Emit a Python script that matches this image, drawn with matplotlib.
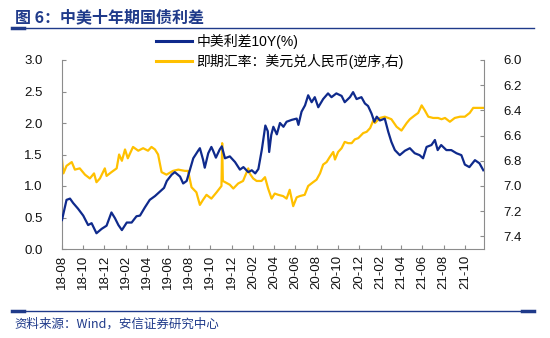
import pandas as pd
import numpy as np
from matplotlib import pyplot as plt
import matplotlib.dates as mdates
from matplotlib.lines import Line2D

plt.rcParams['font.family'] = ['Liberation Sans', 'Noto Sans CJK SC', 'DejaVu Sans']

# 中美利差10Y(%)
spread_dates = [
    '2018-08-01', '2018-08-14', '2018-08-24', '2018-09-02', '2018-09-16', '2018-10-01',
    '2018-10-15', '2018-10-25', '2018-11-08', '2018-11-23', '2018-12-07', '2018-12-21',
    '2018-12-31', '2019-01-10', '2019-01-20', '2019-02-03', '2019-02-17', '2019-03-03',
    '2019-03-13', '2019-03-27', '2019-04-10', '2019-04-25', '2019-05-09', '2019-05-21',
    '2019-05-29', '2019-06-12', '2019-06-21', '2019-07-06', '2019-07-15', '2019-07-25',
    '2019-08-03', '2019-08-13', '2019-08-27', '2019-09-01', '2019-09-10', '2019-09-15',
    '2019-09-25', '2019-10-04', '2019-10-09', '2019-10-17', '2019-10-28', '2019-11-03',
    '2019-11-12', '2019-11-26', '2019-12-11', '2019-12-25', '2020-01-04', '2020-01-18',
    '2020-01-28', '2020-02-07', '2020-02-16', '2020-02-26', '2020-03-07', '2020-03-14',
    '2020-03-18', '2020-03-24', '2020-03-30', '2020-04-09', '2020-04-18', '2020-04-28',
    '2020-05-07', '2020-05-22', '2020-06-05', '2020-06-10', '2020-06-19', '2020-06-29',
    '2020-07-08', '2020-07-18', '2020-07-27', '2020-08-06', '2020-08-20', '2020-09-03',
    '2020-09-13', '2020-09-27', '2020-10-12', '2020-10-21', '2020-11-05', '2020-11-14',
    '2020-11-24', '2020-12-08', '2020-12-18', '2020-12-27', '2021-01-06', '2021-01-14',
    '2021-01-21', '2021-01-30', '2021-02-13', '2021-02-23', '2021-03-04', '2021-03-14',
    '2021-03-28', '2021-04-12', '2021-04-26', '2021-05-10', '2021-05-24', '2021-06-03',
    '2021-06-13', '2021-06-27', '2021-07-07', '2021-07-15', '2021-07-25', '2021-08-09',
    '2021-08-23', '2021-09-07', '2021-09-21', '2021-10-01', '2021-10-14', '2021-10-30',
    '2021-11-12', '2021-11-23',
]
spread = [
    0.46, 0.78, 0.80, 0.73, 0.64, 0.53,
    0.38, 0.41, 0.25, 0.32, 0.37, 0.58,
    0.49, 0.38, 0.30, 0.42, 0.42, 0.52,
    0.53, 0.66, 0.78, 0.84, 0.91, 0.97,
    1.08, 1.18, 1.22, 1.15, 1.04, 1.08,
    1.25, 1.44, 1.56, 1.60, 1.42, 1.29,
    1.52, 1.62, 1.56, 1.45, 1.58, 1.63,
    1.44, 1.47, 1.38, 1.26, 1.30, 1.22,
    1.25, 1.20, 1.27, 1.58, 1.96, 1.87,
    1.54, 1.81, 1.94, 1.82, 2.00, 1.94,
    2.02, 2.05, 2.07, 1.97, 2.18, 2.28,
    2.44, 2.33, 2.41, 2.25, 2.38, 2.47,
    2.41, 2.47, 2.43, 2.33, 2.41, 2.49,
    2.38, 2.41, 2.31, 2.27, 2.15, 2.02,
    2.10, 2.04, 2.07, 1.86, 1.70, 1.57,
    1.49, 1.56, 1.60, 1.52, 1.49, 1.44,
    1.62, 1.65, 1.73, 1.57, 1.65, 1.57,
    1.57, 1.52, 1.49, 1.34, 1.30, 1.41,
    1.36, 1.25,
]

# 即期汇率：美元兑人民币
fx_dates = [
    '2018-08-01', '2018-08-05', '2018-08-14', '2018-08-29', '2018-09-07', '2018-09-21',
    '2018-10-06', '2018-10-20', '2018-11-01', '2018-11-08', '2018-11-18', '2018-12-02',
    '2018-12-07', '2018-12-21', '2019-01-05', '2019-01-12', '2019-01-20', '2019-01-29',
    '2019-02-06', '2019-02-21', '2019-03-08', '2019-03-22', '2019-04-05', '2019-04-15',
    '2019-04-25', '2019-05-04', '2019-05-14', '2019-05-28', '2019-06-16', '2019-07-01',
    '2019-07-20', '2019-07-29', '2019-08-08', '2019-08-22', '2019-09-01', '2019-09-10',
    '2019-09-20', '2019-10-04', '2019-10-19', '2019-11-02', '2019-11-04', '2019-11-06',
    '2019-11-26', '2019-12-06', '2019-12-20', '2020-01-03', '2020-01-18', '2020-01-22',
    '2020-02-01', '2020-02-11', '2020-02-25', '2020-03-06', '2020-03-15', '2020-03-25',
    '2020-04-03', '2020-04-13', '2020-04-27', '2020-05-07', '2020-05-16', '2020-05-26',
    '2020-06-05', '2020-06-14', '2020-06-28', '2020-07-08', '2020-07-22', '2020-08-01',
    '2020-08-11', '2020-08-20', '2020-08-30', '2020-09-08', '2020-09-18', '2020-09-23',
    '2020-10-02', '2020-10-12', '2020-10-21', '2020-10-31', '2020-11-10', '2020-11-19',
    '2020-11-29', '2020-12-13', '2020-12-23', '2021-01-02', '2021-01-11', '2021-01-16',
    '2021-01-30', '2021-02-13', '2021-02-23', '2021-03-04', '2021-03-19', '2021-04-02',
    '2021-04-17', '2021-04-26', '2021-05-10', '2021-05-20', '2021-05-30', '2021-06-08',
    '2021-06-18', '2021-07-02', '2021-07-16', '2021-07-26', '2021-08-05', '2021-08-19',
    '2021-09-02', '2021-09-17', '2021-10-01', '2021-10-15', '2021-10-25', '2021-11-08',
    '2021-11-23',
]
fx = [
    6.79, 6.90, 6.84, 6.81, 6.87, 6.86,
    6.91, 6.94, 6.90, 6.97, 6.94, 6.86,
    6.92, 6.89, 6.86, 6.75, 6.80, 6.71,
    6.78, 6.69, 6.72, 6.70, 6.72, 6.69,
    6.71, 6.75, 6.89, 6.91, 6.88, 6.87,
    6.88, 6.88, 7.01, 7.05, 7.15, 7.11,
    7.07, 7.10, 7.05, 7.00, 6.66, 6.96,
    6.99, 7.02, 6.98, 6.96, 6.86, 6.90,
    6.94, 6.96, 6.96, 6.93, 7.02, 7.10,
    7.06, 7.07, 7.08, 7.10, 7.03, 7.16,
    7.09, 7.08, 7.07, 7.00, 6.97, 6.95,
    6.90, 6.83, 6.81, 6.77, 6.73, 6.79,
    6.73, 6.70, 6.65, 6.66, 6.66, 6.63,
    6.62, 6.58, 6.57, 6.54, 6.48, 6.50,
    6.46, 6.45, 6.46, 6.47, 6.53, 6.56,
    6.50, 6.47, 6.44, 6.42, 6.36, 6.40,
    6.45, 6.46, 6.46, 6.47, 6.46, 6.49,
    6.46, 6.45, 6.45, 6.42, 6.38, 6.38,
    6.38,
]

left_ticks = [0.0, 0.5, 1.0, 1.5, 2.0, 2.5, 3.0]
right_ticks = [6.0, 6.2, 6.4, 6.6, 6.8, 7.0, 7.2, 7.4]

title = '图 6：中美十年期国债利差'
source = '资料来源：Wind，安信证券研究中心'
label_spread = '中美利差10Y(%)'
label_fx = '即期汇率：美元兑人民币(逆序,右)'

blue = '#0f2a8c'
orange = '#ffc000'
navy = '#1f3a8a'
spine_c = '#8c8c8c'

s_dates = pd.to_datetime(spread_dates)
f_dates = pd.to_datetime(fx_dates)

fig = plt.figure(figsize=(5.5, 3.38), dpi=100)
ax = fig.add_axes([62/550, 1 - 249/338, (484 - 62)/550, (249 - 60)/338])
ax2 = ax.twinx()

ax.plot(s_dates, spread, color=blue, lw=1.6, zorder=3)
ax2.plot(f_dates, fx, color=orange, lw=1.6, zorder=2)
ax.set_zorder(ax2.get_zorder() + 1)
ax.patch.set_visible(False)

ax.set_ylim(0, 3.0)
ax.set_yticks(left_ticks)
ax.set_yticklabels(['%.1f' % t for t in left_ticks])
ax2.set_ylim(7.5, 6.0)
ax2.set_yticks(right_ticks)
ax2.set_yticklabels(['%.1f' % t for t in right_ticks])

ax.set_xlim(pd.Timestamp('2018-08-01'), pd.Timestamp('2021-11-25'))
ax.xaxis.set_major_locator(mdates.MonthLocator(bymonth=[2, 4, 6, 8, 10, 12]))
ax.xaxis.set_major_formatter(mdates.DateFormatter('%y-%m'))
for lab in ax.get_xticklabels():
    lab.set_rotation(90)

for a in (ax, ax2):
    a.spines['top'].set_visible(False)
    for s in ('left', 'right', 'bottom'):
        a.spines[s].set_color(spine_c)
    a.tick_params(direction='in', length=3, color=spine_c, labelsize=9.5, labelcolor='#111111')
ax.spines['right'].set_visible(False)
ax2.spines['left'].set_visible(False)
ax2.spines['bottom'].set_visible(False)
ax.tick_params(axis='y', pad=14)
ax.tick_params(axis='x', pad=4, labelsize=9.5)
ax2.tick_params(axis='y', pad=14)

handles = [Line2D([], [], color=blue, lw=2.2), Line2D([], [], color=orange, lw=2.2)]
fig.legend(handles, [label_spread, label_fx], loc='upper left',
           bbox_to_anchor=(156/550, 1 - 34/338), frameon=False, fontsize=10,
           handlelength=2.6, handletextpad=0.3, labelspacing=0.35,
           borderpad=0, borderaxespad=0)

fig.text(15/550, 1 - 17/338, title, fontsize=11.5, fontweight='bold', color=navy,
         va='center', ha='left', family=['Noto Sans CJK SC', 'DejaVu Sans'])
fig.text(14/550, 1 - 324/338, source, fontsize=9, style='italic', color=navy,
         va='center', ha='left', family=['Noto Sans CJK SC', 'DejaVu Sans'])

# header and footer rules
for yy in (28, 311):
    fig.add_artist(Line2D([12/550, 534/550], [1 - yy/338] * 2, color=navy, lw=1.0))
    fig.add_artist(Line2D([12/550, 24/550], [1 - yy/338] * 2, color=navy, lw=2.5))
fig.add_artist(Line2D([522/550, 534/550], [1 - 311/338] * 2, color=navy, lw=2.5))

fig.savefig('out.png', dpi=100)
